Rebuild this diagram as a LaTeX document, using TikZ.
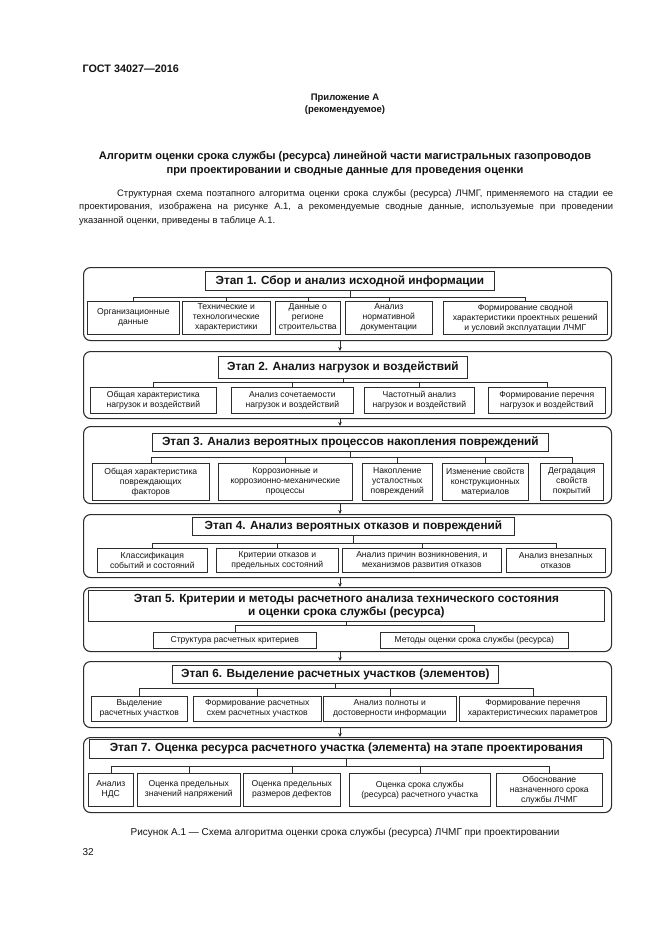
\documentclass[tikz,border=0pt]{standalone}
\usepackage{fontspec}
\setmainfont{Liberation Sans}
\usetikzlibrary{arrows.meta,positioning}
\definecolor{gostline}{RGB}{45,45,45}
\definecolor{gosttext}{RGB}{20,20,20}

\begin{document}
\begin{tikzpicture}[x=1pt,y=-1pt,
  stageframe/.style={draw=gostline, line width=1.1pt, rounded corners=7pt, anchor=north west, inner sep=0pt},
  headbox/.style={draw=gostline, line width=0.8pt, anchor=north west, inner sep=0pt, align=center,
    text=gosttext, font=\fontsize{11.8}{13}\selectfont\bfseries},
  itembox/.style={draw=gostline, line width=0.6pt, anchor=north west, inner sep=0pt, align=center,
    text=gosttext, font=\fontsize{8.6}{10}\selectfont},
  link/.style={draw=gostline, line width=0.5pt},
  stagearrow/.style={draw=gostline, line width=0.8pt, -{Stealth[length=4pt,width=3.5pt]}}]
\useasboundingbox[fill=white] (0,0) rectangle (661,935);
% Page head
\node[anchor=base west, text=gosttext, font=\fontsize{10.8}{12}\selectfont\bfseries] (gost) at (79,72) {ГОСТ 34027—2016};
\node[align=center, text=gosttext, font=\fontsize{9.5}{12}\selectfont\bfseries] (annex) at (345,104)
  {Приложение А\\(рекомендуемое)};
\node[align=center, text=gosttext, font=\fontsize{11.1}{14}\selectfont\bfseries] (title) at (345,164)
  {Алгоритм оценки срока службы (ресурса) линейной части магистральных газопроводов\\
   при проектировании и сводные данные для проведения оценки};
\node[anchor=north west, text width=534, align=justify, inner sep=0pt, text=gosttext,
  font=\fontsize{9.4}{13.5}\selectfont] (intro) at (79,189)
  {\hspace*{38pt}Структурная схема поэтапного алгоритма оценки срока службы (ресурса) ЛЧМГ, применяемого на стадии ее\linebreak
   проектирования, изображена на рисунке А.1, а рекомендуемые сводные данные, используемые при проведении\linebreak
   указанной оценки, приведены в таблице А.1.};

% Stage frames
\node[stageframe, minimum width=528, minimum height=73] (s1) at (83,267) {};
\node[stageframe, minimum width=528, minimum height=67] (s2) at (83,351) {};
\node[stageframe, minimum width=528, minimum height=77] (s3) at (83,426) {};
\node[stageframe, minimum width=528, minimum height=63] (s4) at (83,514) {};
\node[stageframe, minimum width=528, minimum height=64] (s5) at (83,587) {};
\node[stageframe, minimum width=528, minimum height=66] (s6) at (83,661) {};
\node[stageframe, minimum width=528, minimum height=75] (s7) at (83,737) {};
\foreach \a/\b in {s1/s2,s2/s3,s3/s4,s4/s5,s5/s6,s6/s7}
  \draw[stagearrow] (\a.south -| 340,0) -- (\b.north -| 340,0);

% Stage 1
\node[headbox, minimum width=289, minimum height=19] (h1) at (205,271) {Этап 1. Сбор и анализ исходной информации};
\foreach \n/\xa/\xb/\txt in {1/87/179/{Организационные\\данные},
    2/182/270/{Технические и\\технологические\\характеристики},
    3/275/340/{Данные о\\регионе\\строительства},
    4/345/432/{Анализ\\нормативной\\документации},
    5/443/607/{Формирование сводной\\характеристики проектных решений\\и условий эксплуатации ЛЧМГ}} {
  \node[itembox, minimum width=\xb-\xa, minimum height=33] (b1-\n) at (\xa,301) {\txt};
  \draw[link] (h1.south) |- (b1-\n.north |- 0,297) -- (b1-\n.north);
}

% Stage 2
\node[headbox, minimum width=249, minimum height=22] (h2) at (218,356) {Этап 2. Анализ нагрузок и воздействий};
\foreach \n/\xa/\xb/\txt in {1/90/216/{Общая характеристика\\нагрузок и воздействий},
    2/231/353/{Анализ сочетаемости\\нагрузок и воздействий},
    3/364/474/{Частотный анализ\\нагрузок и воздействий},
    4/488/605/{Формирование перечня\\нагрузок и воздействий}} {
  \node[itembox, minimum width=\xb-\xa, minimum height=26] (b2-\n) at (\xa,387) {\txt};
  \draw[link] (h2.south) |- (b2-\n.north |- 0,382) -- (b2-\n.north);
}

% Stage 3
\node[headbox, minimum width=396, minimum height=18] (h3) at (152,433) {Этап 3. Анализ вероятных процессов накопления повреждений};
\foreach \n/\xa/\xb/\txt in {1/92/209/{Общая характеристика\\повреждающих\\факторов},
    2/218/352/{Коррозионные и\\коррозионно-механические\\процессы},
    3/362/432/{Накопление\\усталостных\\повреждений},
    4/442/528/{Изменение свойств\\конструкционных\\материалов},
    5/540/603/{Деградация\\свойств\\покрытий}} {
  \node[itembox, minimum width=\xb-\xa, minimum height=37] (b3-\n) at (\xa,463) {\txt};
  \draw[link] (h3.south) |- (b3-\n.north |- 0,457) -- (b3-\n.north);
}

% Stage 4
\node[headbox, minimum width=322, minimum height=18] (h4) at (192,517) {Этап 4. Анализ вероятных отказов и повреждений};
\foreach \n/\xa/\xb/\txt in {1/97/207/{Классификация\\событий и состояний},
    2/216/338/{Критерии отказов и\\предельных состояний},
    3/342/501/{Анализ причин возникновения, и\\механизмов развития отказов},
    4/506/605/{Анализ внезапных\\отказов}} {
  \node[itembox, minimum width=\xb-\xa, minimum height=24] (b4-\n) at (\xa,548) {\txt};
  \draw[link] (h4.south) |- (b4-\n.north |- 0,543) -- (b4-\n.north);
}

% Stage 5
\node[headbox, minimum width=516, minimum height=31] (h5) at (88,590)
  {Этап 5. Критерии и методы расчетного анализа технического состояния\\и оценки срока службы (ресурса)};
\foreach \n/\xa/\xb/\txt in {1/153/316/{Структура расчетных критериев},
    2/380/568/{Методы оценки срока службы (ресурса)}} {
  \node[itembox, minimum width=\xb-\xa, minimum height=16] (b5-\n) at (\xa,632) {\txt};
  \draw[link] (h5.south) |- (b5-\n.north |- 0,625) -- (b5-\n.north);
}

% Stage 6
\node[headbox, minimum width=326, minimum height=18] (h6) at (172,665) {Этап 6. Выделение расчетных участков (элементов)};
\foreach \n/\xa/\xb/\txt in {1/91/187/{Выделение\\расчетных участков},
    2/193/321/{Формирование расчетных\\схем расчетных участков},
    3/323/456/{Анализ полноты и\\достоверности информации},
    4/459/606/{Формирование перечня\\характеристических параметров}} {
  \node[itembox, minimum width=\xb-\xa, minimum height=25] (b6-\n) at (\xa,696) {\txt};
  \draw[link] (h6.south) |- (b6-\n.north |- 0,688) -- (b6-\n.north);
}

% Stage 7
\node[headbox, minimum width=514, minimum height=19] (h7) at (89,739)
  {Этап 7. Оценка ресурса расчетного участка (элемента) на этапе проектирования};
\foreach \n/\xa/\xb/\txt in {1/88/133/{Анализ\\НДС},
    2/137/240/{Оценка предельных\\значений напряжений},
    3/243/340/{Оценка предельных\\размеров дефектов},
    4/349/490/{Оценка срока службы\\(ресурса) расчетного участка},
    5/496/602/{Обоснование\\назначенного срока\\службы ЛЧМГ}} {
  \node[itembox, minimum width=\xb-\xa, minimum height=33] (b7-\n) at (\xa,773) {\txt};
  \draw[link] (h7.south) |- (b7-\n.north |- 0,766) -- (b7-\n.north);
}

% Caption
\node[text=gosttext, font=\fontsize{10}{12}\selectfont] (caption) at (345,833)
  {Рисунок А.1 — Схема алгоритма оценки срока службы (ресурса) ЛЧМГ при проектировании};
\node[anchor=base west, text=gosttext, font=\fontsize{10}{12}\selectfont] (page) at (79,855) {32};
\end{tikzpicture}
\end{document}
